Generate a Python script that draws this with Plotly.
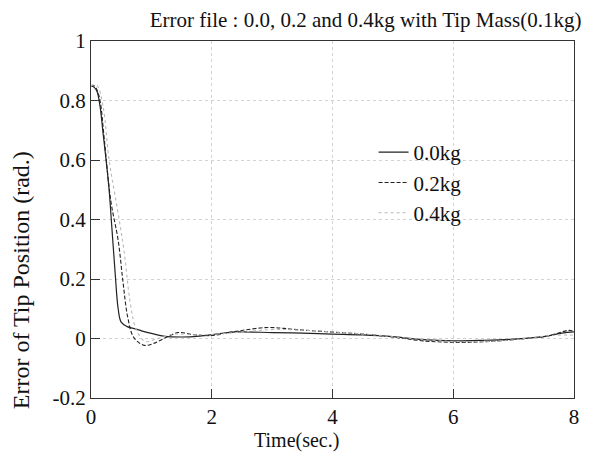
import plotly.graph_objects as go

# ---- data ----
t_00 = [0, 0.05, 0.1, 0.15, 0.2, 0.25, 0.3, 0.35, 0.4, 0.45, 0.5, 0.6, 0.7, 0.85, 1.0, 1.2, 1.5,
        1.8, 2.1, 2.4, 3.0, 3.5, 4.0, 4.5, 5.0, 5.5, 6.0, 6.5, 7.0, 7.5, 7.8, 8.0]
v_00 = [0.85, 0.845, 0.83, 0.78, 0.69, 0.6, 0.5, 0.36, 0.22, 0.1, 0.055, 0.04, 0.034, 0.025, 0.017,
        0.008, 0.005, 0.008, 0.016, 0.022, 0.02, 0.018, 0.015, 0.012, 0.006, -0.004, -0.008, -0.006,
        -0.002, 0.006, 0.018, 0.022]

t_02 = [0, 0.05, 0.1, 0.15, 0.22, 0.33, 0.45, 0.53, 0.61, 0.71, 0.88, 1.03, 1.24, 1.44, 1.7, 2.0,
        2.37, 2.93, 3.4, 3.9, 4.5, 5.0, 5.5, 6.1, 6.6, 7.2, 7.6, 7.9, 8.0]
v_02 = [0.85, 0.85, 0.835, 0.8, 0.67, 0.46, 0.33, 0.19, 0.07, 0.003, -0.023, -0.017, 0.003, 0.02,
        0.013, 0.01, 0.023, 0.037, 0.03, 0.023, 0.015, 0.005, -0.008, -0.013, -0.01, 0.0, 0.01,
        0.027, 0.025]

t_04 = [0, 0.1, 0.2, 0.3, 0.45, 0.55, 0.65, 0.75, 0.9, 1.1, 1.4, 1.8, 2.4, 3.0, 3.5, 4.0, 4.7,
        5.3, 6.0, 6.6, 7.2, 7.6, 8.0]
v_04 = [0.85, 0.85, 0.78, 0.6, 0.42, 0.29, 0.12, 0.03, -0.01, 0.0, 0.015, 0.012, 0.02, 0.03, 0.028,
        0.022, 0.012, 0.0, -0.01, -0.01, 0.0, 0.01, 0.012]

names = ["0.0kg", "0.2kg", "0.4kg"]
x_ticks = [0, 2, 4, 6, 8]
y_ticks = [-0.2, 0, 0.2, 0.4, 0.6, 0.8, 1]
y_tick_text = ["-0.2", "0", "0.2", "0.4", "0.6", "0.8", "1"]

FONT = "Liberation Serif, Times New Roman, serif"
INK = "#111111"

fig = go.Figure()
fig.add_trace(go.Scatter(x=t_00, y=v_00, name=names[0], mode="lines", line_shape="spline",
                         line=dict(color="#222222", width=1.2)))
fig.add_trace(go.Scatter(x=t_02, y=v_02, name=names[1], mode="lines", line_shape="spline",
                         line=dict(color="#222222", width=1.1, dash="4px,2px")))
fig.add_trace(go.Scatter(x=t_04, y=v_04, name=names[2], mode="lines", line_shape="spline",
                         line=dict(color="#b8b8b8", width=1.1, dash="dot")))

axis_common = dict(showline=True, linecolor="#333333", linewidth=1.2, mirror=True,
                   ticks="inside", ticklen=9, tickcolor="#333333", tickwidth=1.2,
                   showgrid=True, gridcolor="#d2d2d2", griddash="dot", gridwidth=1,
                   zeroline=False, tickfont=dict(family=FONT, size=21, color=INK))

fig.update_layout(
    width=601, height=463,
    paper_bgcolor="white", plot_bgcolor="white",
    margin=dict(l=83, r=35, t=33, b=73),
    title=dict(text="Error file : 0.0, 0.2 and 0.4kg with Tip Mass(0.1kg)",
               x=0.595, xanchor="center", y=0.974, yanchor="middle",
               font=dict(family=FONT, size=21, color=INK)),
    xaxis=dict(range=[0, 8], tickvals=x_ticks, **axis_common),
    yaxis=dict(range=[-0.2, 1], tickvals=y_ticks, ticktext=y_tick_text, **axis_common),
    legend=dict(x=0.585, y=0.745, xanchor="left", yanchor="top", bgcolor="rgba(0,0,0,0)",
                font=dict(family=FONT, size=21, color=INK), tracegroupgap=0),
    showlegend=True,
    annotations=[
        dict(text="Time(sec.)", xref="paper", yref="paper", x=0.425, y=-0.118,
             xanchor="center", yanchor="middle", showarrow=False,
             font=dict(family=FONT, size=20, color=INK)),
        dict(text="Error of Tip Position (rad.)", xref="paper", yref="paper", x=-0.145, y=0.33,
             xanchor="center", yanchor="middle", textangle=-90, showarrow=False,
             font=dict(family=FONT, size=24, color=INK)),
    ],
)

fig.write_html("out.html")
